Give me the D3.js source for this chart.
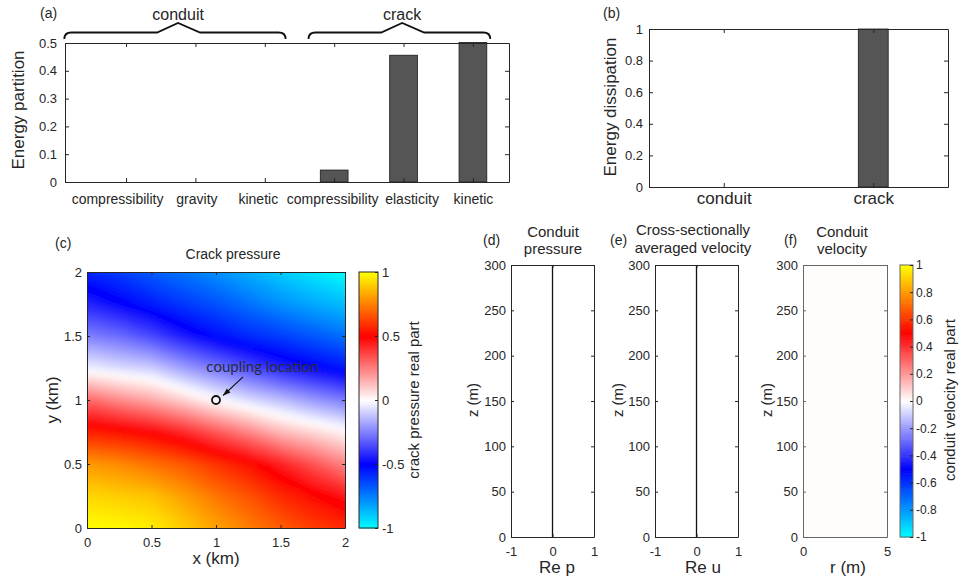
<!DOCTYPE html>
<html>
<head>
<meta charset="utf-8">
<script src="https://cdn.jsdelivr.net/npm/d3@7"></script>
<style>
body { margin: 0; background: #fff; }
svg { display: block; font-family: "Liberation Sans", Arial, sans-serif; }
.axis path, .axis line { stroke: #262626; }
.axis text { fill: #262626; font-family: "Liberation Sans", Arial, sans-serif; font-size: 13px; }
</style>
</head>
<body>
<svg id="fig" width="959" height="581"></svg>
<script>
// (a) energy partition
var partitionLabels = ["compressibility", "gravity", "kinetic", "compressibility", "elasticity", "kinetic"];
var partitionValues = [0, 0, 0, 0.043, 0.456, 0.502];
var partitionTicks = [0, 0.1, 0.2, 0.3, 0.4, 0.5];
var partitionGroups = ["conduit", "crack"];

// (b) energy dissipation
var dissipationLabels = ["conduit", "crack"];
var dissipationValues = [0, 1];
var dissipationTicks = [0, 0.2, 0.4, 0.6, 0.8, 1];

// (c) crack pressure, real part; rows go from y = 0 (bottom) to y = 2 (top)
var crackX = [0, 0.25, 0.5, 0.75, 1, 1.25, 1.5, 1.75, 2];
var crackY = [0, 0.25, 0.5, 0.75, 1, 1.25, 1.5, 1.75, 2];
var crackPressure = [
  [1.00, 0.99, 0.97, 0.90, 0.82, 0.75, 0.68, 0.62, 0.58],
  [0.92, 0.90, 0.88, 0.81, 0.73, 0.66, 0.58, 0.52, 0.46],
  [0.80, 0.77, 0.72, 0.67, 0.60, 0.53, 0.44, 0.34, 0.24],
  [0.56, 0.53, 0.49, 0.42, 0.33, 0.24, 0.14, 0.08, 0.02],
  [0.30, 0.23, 0.17, 0.09, 0.00, -0.07, -0.13, -0.20, -0.26],
  [-0.03, -0.07, -0.10, -0.19, -0.27, -0.35, -0.43, -0.49, -0.54],
  [-0.25, -0.29, -0.36, -0.45, -0.52, -0.58, -0.62, -0.67, -0.72],
  [-0.43, -0.49, -0.55, -0.61, -0.66, -0.72, -0.78, -0.83, -0.87],
  [-0.57, -0.62, -0.68, -0.73, -0.78, -0.84, -0.90, -0.95, -1.00]
];
var couplingPoint = [1, 1];
var crackTicks = [0, 0.5, 1, 1.5, 2];
var crackBarTicks = [-1, -0.5, 0, 0.5, 1];

// (d) (e) (f) conduit
var conduitZ = [0, 300];
var conduitPressure = [0, 0];
var conduitVelocityAvg = [0, 0];
var conduitR = [0, 5];
var conduitVelocity = [0.006];
var zTicks = [0, 50, 100, 150, 200, 250, 300];
var reTicks = [-1, 0, 1];
var rTicks = [0, 5];
var velocityBarTicks = [-1, -0.8, -0.6, -0.4, -0.2, 0, 0.2, 0.4, 0.6, 0.8, 1];

var svg = d3.select("#fig");
var ink = "#262626";
var fmt = function(d) { return String(d); };

// cyan - blue - white - red - yellow
var cmap = d3.scaleLinear()
  .domain([-1, -0.5, 0, 0.5, 1])
  .range(["#00ffff", "#0000ff", "#ffffff", "#ff0000", "#ffff00"]);

// box with inward ticks on all four sides (matlab style)
function frame(x, y, o) {
  var xr = x.range(), yr = y.range();
  var b = svg.append("g").attr("class", "axis");
  b.append("g").attr("transform", "translate(0," + yr[0] + ")")
    .call(d3.axisBottom(x).tickValues(o.xt).tickSize(-o.tk).tickSizeOuter(0).tickPadding(o.xpad).tickFormat(o.xf || fmt));
  b.append("g").attr("transform", "translate(0," + yr[1] + ")")
    .call(d3.axisTop(x).tickValues(o.xt).tickSize(-o.tk).tickSizeOuter(0).tickFormat(""));
  b.append("g").attr("transform", "translate(" + xr[0] + ",0)")
    .call(d3.axisLeft(y).tickValues(o.yt).tickSize(-o.tk).tickSizeOuter(0).tickPadding(o.ypad).tickFormat(fmt));
  b.append("g").attr("transform", "translate(" + xr[1] + ",0)")
    .call(d3.axisRight(y).tickValues(o.yt).tickSize(-o.tk).tickSizeOuter(0).tickFormat(""));
  return b;
}

function label(x, y, txt, size, anchor, rot) {
  var t = svg.append("text").attr("x", x).attr("y", y).text(txt)
    .attr("font-size", size).attr("fill", ink).attr("text-anchor", anchor || "middle");
  if (rot) t.attr("transform", "rotate(-90," + x + "," + y + ")");
  return t;
}

function colorbar(x0, w, y, ticks, size, pad, stroke) {
  var step = 2 / 128;
  svg.append("g").selectAll("rect").data(d3.range(-1, 1, step)).join("rect")
    .attr("x", x0).attr("width", w)
    .attr("y", function(d) { return y(d + step); })
    .attr("height", Math.abs(y(0) - y(step)) + 0.6)
    .attr("fill", function(d) { return cmap(d + step / 2); });
  var b = svg.append("g").attr("class", "axis");
  b.append("rect").attr("x", x0).attr("y", y.range()[1]).attr("width", w)
    .attr("height", y.range()[0] - y.range()[1]).attr("fill", "none").attr("stroke", stroke);
  var ax = b.append("g").attr("transform", "translate(" + (x0 + w) + ",0)")
    .call(d3.axisRight(y).tickValues(ticks).tickSize(-3).tickSizeOuter(0).tickPadding(pad).tickFormat(fmt));
  ax.select(".domain").remove();
  ax.selectAll("text").style("font-size", size + "px");
}

// ---------- (a) ----------
var xa = d3.scaleLinear().domain([0.12, 6.52]).range([65, 509]);
var ya = d3.scaleLinear().domain([0, 0.5]).range([182, 43]);
var bwA = (xa(2) - xa(1)) * 0.4;
svg.append("g").selectAll("rect").data(partitionValues).join("rect")
  .attr("x", function(d, i) { return xa(i + 1) - bwA / 2; })
  .attr("y", function(d) { return ya(d); })
  .attr("width", bwA)
  .attr("height", function(d) { return ya(0) - ya(d); })
  .attr("fill", "#555555").attr("stroke", "#1a1a1a").attr("stroke-width", 0.8);
var labelShift = [-9, 1, -7, -2, 8, 0];
var axA = frame(xa, ya, {xt: [1, 2, 3, 4, 5, 6], yt: partitionTicks, tk: 4, xpad: 12, ypad: 8,
  xf: function(d) { return partitionLabels[d - 1]; }});
axA.select("g").selectAll("text")
  .style("font-size", "14px").attr("dx", function(d) { return labelShift[d - 1]; });
label(24, 110, "Energy partition", 17, "middle", true);
label(40, 18, "(a)", 14, "start");

// braces over the two groups
function brace(a, b, m) {
  var x0 = xa(a), x1 = xa(b), xm = xa(m), yb = 39, yf = 32.5, yp = 23;
  return "M" + x0 + "," + yb + "Q" + x0 + "," + yf + " " + (x0 + 7) + "," + yf +
    "L" + (xm - 21) + "," + yf + "L" + xm + "," + yp + "L" + (xm + 22) + "," + yf +
    "L" + (x1 - 7) + "," + yf + "Q" + x1 + "," + yf + " " + x1 + "," + yb;
}
var braceSpans = [[0.11, 3.3, 1.75], [3.63, 6.25, 4.98]];
svg.append("g").selectAll("path").data(braceSpans).join("path")
  .attr("d", function(d) { return brace(d[0], d[1], d[2]); })
  .attr("fill", "none").attr("stroke", "#111").attr("stroke-width", 1.8);
partitionGroups.forEach(function(g, i) {
  label(xa(braceSpans[i][2]), 20, g, 16);
});

// ---------- (b) ----------
var xb = d3.scaleLinear().domain([0.5, 2.5]).range([649, 948]);
var yb = d3.scaleLinear().domain([0, 1]).range([187, 29]);
var bwB = (xb(2) - xb(1)) * 0.2;
svg.append("g").selectAll("rect").data(dissipationValues).join("rect")
  .attr("x", function(d, i) { return xb(i + 1) - bwB / 2; })
  .attr("y", function(d) { return yb(d); })
  .attr("width", bwB)
  .attr("height", function(d) { return yb(0) - yb(d); })
  .attr("fill", "#555555").attr("stroke", "#1a1a1a").attr("stroke-width", 0.8);
var axB = frame(xb, yb, {xt: [1, 2], yt: dissipationTicks, tk: 4, xpad: 5, ypad: 6,
  xf: function(d) { return dissipationLabels[d - 1]; }});
axB.select("g").selectAll("text").style("font-size", "17px");
label(616, 107, "Energy dissipation", 17, "middle", true);
label(603, 18, "(b)", 14, "start");

// ---------- (c) ----------
var xc = d3.scaleLinear().domain([0, 2]).range([87, 345]);
var yc = d3.scaleLinear().domain([0, 2]).range([528, 272]);
var defs = svg.append("defs");
defs.append("clipPath").attr("id", "clipC").append("rect")
  .attr("x", 87).attr("y", 272).attr("width", 258).attr("height", 256);
defs.append("filter").attr("id", "soft").attr("x", "-5%").attr("y", "-5%").attr("width", "110%").attr("height", "110%")
  .append("feGaussianBlur").attr("stdDeviation", 3);

var nx = crackX.length, ny = crackY.length;
var flat = [].concat.apply([], crackPressure);
var levels = d3.range(-1, 1, 0.02);
var bands = d3.contours().size([nx, ny]).thresholds(levels)(flat);
var dxc = crackX[1] - crackX[0], dyc = crackY[1] - crackY[0];
var gridProj = d3.geoTransform({
  point: function(px, py) {
    this.stream.point(xc(crackX[0] + (px - 0.5) * dxc), yc(crackY[0] + (py - 0.5) * dyc));
  }
});
var field = svg.append("g").attr("clip-path", "url(#clipC)")
  .append("g").attr("filter", "url(#soft)");
field.selectAll("path").data(bands).join("path")
  .attr("d", d3.geoPath(gridProj))
  .attr("fill", function(d) { return cmap(d.value + 0.01); });

frame(xc, yc, {xt: crackTicks, yt: crackTicks, tk: 3, xpad: 10, ypad: 5});
label(216, 564, "x (km)", 17);
label(58, 400, "y (km)", 17, "middle", true);
label(233, 259, "Crack pressure", 14);
label(55, 248, "(c)", 14, "start");

// coupling location marker + arrow
svg.append("circle").attr("cx", xc(couplingPoint[0])).attr("cy", yc(couplingPoint[1])).attr("r", 4)
  .attr("fill", "none").attr("stroke", "#111").attr("stroke-width", 1.8);
var ax0 = xc(1.21), ay0 = yc(1.18), ax1 = xc(1.055), ay1 = yc(1.035);
svg.append("line").attr("x1", ax0).attr("y1", ay0).attr("x2", ax1).attr("y2", ay1)
  .attr("stroke", "#111").attr("stroke-width", 1.1);
var ang = Math.atan2(ay1 - ay0, ax1 - ax0);
function pt(r, a) { return (ax1 - r * Math.cos(ang + a)) + "," + (ay1 - r * Math.sin(ang + a)); }
svg.append("path").attr("d", "M" + ax1 + "," + ay1 + "L" + pt(8, 0.35) + "L" + pt(8, -0.35) + "Z").attr("fill", "#111");
svg.append("text").attr("x", xc(1.36)).attr("y", yc(1.22)).attr("text-anchor", "middle")
  .attr("font-family", "Lato, 'Open Sans', sans-serif").attr("font-size", 15).attr("fill", "#2a2a3a")
  .text("coupling location");

var cbC = d3.scaleLinear().domain([-1, 1]).range([528, 272]);
colorbar(359, 19, cbC, crackBarTicks, 13, 4, ink);
label(419, 400, "crack pressure real part", 15, "middle", true);

// ---------- (d) (e) (f) ----------
var zs = d3.scaleLinear().domain([0, 300]).range([537, 265]);
var xd = d3.scaleLinear().domain([-1, 1]).range([511, 594]);
var xe = d3.scaleLinear().domain([-1, 1]).range([655, 738]);
var xf = d3.scaleLinear().domain([0, 5]).range([803, 887]);

function profile(x, vals) {
  var line = d3.line().x(function(d) { return x(d); }).y(function(d, i) { return zs(conduitZ[i]); });
  svg.append("path").datum(vals).attr("d", line).attr("fill", "none").attr("stroke", "#111").attr("stroke-width", 1.3);
}
profile(xd, conduitPressure);
profile(xe, conduitVelocityAvg);

svg.append("g").selectAll("rect").data(conduitVelocity).join("rect")
  .attr("x", xf(conduitR[0])).attr("width", xf(conduitR[1]) - xf(conduitR[0]))
  .attr("y", zs(conduitZ[1])).attr("height", zs(conduitZ[0]) - zs(conduitZ[1]))
  .attr("fill", function(d) { return cmap(d); });

frame(xd, zs, {xt: reTicks, yt: zTicks, tk: 3, xpad: 10, ypad: 5});
frame(xe, zs, {xt: reTicks, yt: zTicks, tk: 3, xpad: 10, ypad: 5});
var axF = frame(xf, zs, {xt: rTicks, yt: zTicks, tk: 3, xpad: 10, ypad: 5});
axF.selectAll("path, line").style("stroke", "#666");

label(478, 400, "z (m)", 15, "middle", true);
label(623, 400, "z (m)", 15, "middle", true);
label(772, 400, "z (m)", 15, "middle", true);
label(557, 573, "Re p", 17);
label(703, 573, "Re u", 17);
label(848, 573, "r (m)", 17);

label(553, 237, "Conduit", 15);
label(553, 254, "pressure", 15);
label(693, 235, "Cross-sectionally", 15);
label(693, 253, "averaged velocity", 15);
label(842, 237, "Conduit", 15);
label(842, 254, "velocity", 15);
label(483, 245, "(d)", 14, "start");
label(610, 245, "(e)", 14, "start");
label(784, 245, "(f)", 14, "start");

var cbF = d3.scaleLinear().domain([-1, 1]).range([537, 265]);
colorbar(900, 13, cbF, velocityBarTicks, 12, 3, "#666");
label(955, 400, "conduit velocity real part", 15, "middle", true);
</script>
</body>
</html>
